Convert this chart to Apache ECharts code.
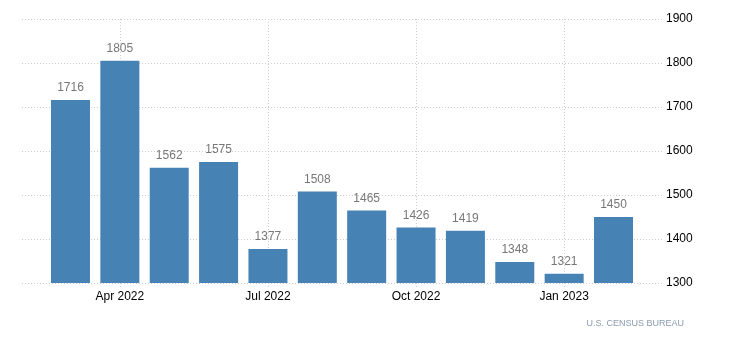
<!DOCTYPE html>
<html><head><meta charset="utf-8">
<script src="https://cdn.jsdelivr.net/npm/echarts@6/dist/echarts.min.js"></script>
<style>html,body{margin:0;padding:0;background:#fff}#c{width:730px;height:349px}</style>
</head><body><div id="c"></div>
<script>
const months = ["Mar 2022","Apr 2022","May 2022","Jun 2022","Jul 2022","Aug 2022","Sep 2022","Oct 2022","Nov 2022","Dec 2022","Jan 2023","Feb 2023"];
const values = [1716,1805,1562,1575,1377,1508,1465,1426,1419,1348,1321,1450];
const shownLabels = ["Apr 2022","Jul 2022","Oct 2022","Jan 2023"];
const yMin = 1300, yMax = 1900, yStep = 100;

const font = "'Liberation Sans', Arial, sans-serif";
const chart = echarts.init(document.getElementById('c'));
const isShown = (i) => shownLabels.indexOf(months[i]) >= 0;
// band width ~49.36 px; bar centres from 70.5 to 613.5
chart.setOption({
  animation: false,
  grid: [
    {left: 45.8, right: 730 - 638.2, top: 19, bottom: 66},
    {left: 22, right: 68, top: 19, bottom: 66},
    {left: 70.5, right: 730 - 613.5, top: 19, bottom: 66}
  ],
  xAxis: [
    {type: 'category', gridIndex: 0, data: months, boundaryGap: true, show: false},
    {type: 'value', gridIndex: 1, show: false, min: 0, max: 1},
    {
      type: 'category', gridIndex: 2, data: months, boundaryGap: false,
      axisLine: {show: false},
      axisTick: {show: true, interval: (i) => isShown(i), length: 4, lineStyle: {color: '#ccc', type: [1, 2]}},
      axisLabel: {interval: (i) => isShown(i), color: '#000', fontFamily: font, fontSize: 12, margin: 8},
      splitLine: {show: true, interval: (i) => isShown(i), lineStyle: {color: '#ccc', type: [1, 2], width: 1}}
    }
  ],
  yAxis: [
    {type: 'value', gridIndex: 0, min: yMin, max: yMax, interval: yStep, show: false, splitLine: {show: false}},
    {
      type: 'value', gridIndex: 1, position: 'right', min: yMin, max: yMax, interval: yStep,
      axisLine: {show: false}, axisTick: {show: false},
      axisLabel: {color: '#000', fontFamily: font, fontSize: 12, margin: 4, formatter: (v) => String(v)},
      splitLine: {show: true, lineStyle: {color: '#ccc', type: [1, 2], width: 1}}
    },
    {type: 'value', gridIndex: 2, min: yMin, max: yMax, interval: yStep, show: false, splitLine: {show: false}}
  ],
  series: [{
    type: 'bar', xAxisIndex: 0, yAxisIndex: 0, data: values,
    barWidth: 39,
    itemStyle: {color: '#4682B4'},
    label: {show: true, position: 'top', distance: 6, color: '#777', fontFamily: font, fontSize: 12}
  }],
  graphic: [{
    type: 'text', right: 46, top: 319,
    style: {text: 'U.S. CENSUS BUREAU', fill: '#8a9bb0', font: '9px ' + font}
  }]
});
</script></body></html>
